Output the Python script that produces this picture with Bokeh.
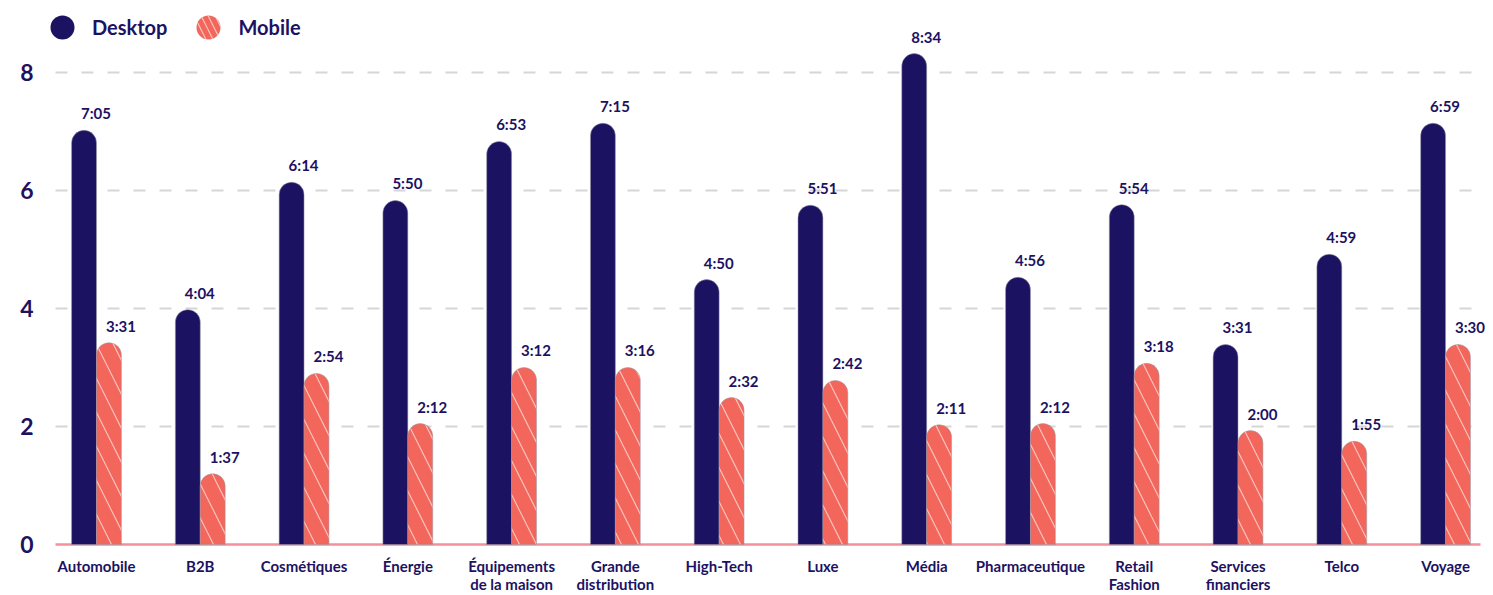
from bokeh.plotting import figure
from bokeh.models import (ColumnDataSource, FixedTicker, Grid, Legend, LegendItem, LabelSet)
from bokeh.core.properties import value
from bokeh.embed import file_html
from bokeh.resources import INLINE

categories = ["Automobile", "B2B", "Cosmétiques", "Énergie", "Équipements\nde la maison",
              "Grande\ndistribution", "High-Tech", "Luxe", "Média", "Pharmaceutique",
              "Retail\nFashion", "Services\nfinanciers", "Telco", "Voyage"]
desktop = [7.02, 3.98, 6.14, 5.83, 6.83, 7.14, 4.49, 5.75, 8.32, 4.53, 5.76, 3.39, 4.92, 7.14]
mobile = [3.42, 1.20, 2.90, 2.05, 3.00, 3.00, 2.49, 2.78, 2.03, 2.05, 3.07, 1.93, 1.75, 3.39]
desktop_labels = ["7:05", "4:04", "6:14", "5:50", "6:53", "7:15", "4:50", "5:51", "8:34",
                  "4:56", "5:54", "3:31", "4:59", "6:59"]
mobile_labels = ["3:31", "1:37", "2:54", "2:12", "3:12", "3:16", "2:32", "2:42", "2:11",
                 "2:12", "3:18", "2:00", "1:55", "3:30"]
y_ticks = [0, 2, 4, 6, 8]

NAVY = "#1c1262"
CORAL = "#f2665c"
FONT = "Lato"

idx = list(range(len(categories)))
bw = 0.24
src = ColumnDataSource(dict(
    x=idx,
    xd=[i - bw / 2 for i in idx],
    xm=[i + bw / 2 for i in idx],
    desktop=desktop, mobile=mobile,
    dl=desktop_labels, ml=mobile_labels,
))

p = figure(width=1493, height=595, output_backend="svg", toolbar_location=None,
           x_range=(-0.501, 13.462), y_range=(-0.034, 9.05),
           min_border_left=44, min_border_right=0, min_border_top=10, min_border_bottom=47)
p.outline_line_color = None
p.background_fill_color = "white"

GRID_SPAN = (-0.395, 13.34)

# grid
p.xgrid.grid_line_color = None
p.ygrid.ticker = FixedTicker(ticks=[t for t in y_ticks if t > 0])
p.ygrid.grid_line_color = "#d6d6d6"
p.ygrid.grid_line_width = 2
p.ygrid.grid_line_dash = "12 14"

base = Grid(dimension=1, ticker=FixedTicker(ticks=[t for t in y_ticks if t == 0]),
            grid_line_color="#f3909b", grid_line_width=2.5)
for g in (p.ygrid[0], base):
    try:
        g.cross_bounds = GRID_SPAN
    except Exception:
        pass
p.add_layout(base)

rd = p.vbar(x="xd", top="desktop", bottom=0, width=bw, source=src,
            fill_color=NAVY, line_color="#9a9aa8", line_alpha=0.5, line_width=1,
            border_radius=(13, 13, 0, 0))
rm = p.vbar(x="xm", top="mobile", bottom=0, width=bw, source=src,
            fill_color=CORAL, line_color="#9a9aa8", line_alpha=0.5, line_width=1,
            hatch_pattern="\\", hatch_color="white", hatch_alpha=0.6,
            hatch_scale=34, hatch_weight=1.2,
            border_radius=(13, 13, 0, 0))

for xcol, ycol, lcol in (("xd", "desktop", "dl"), ("xm", "mobile", "ml")):
    p.add_layout(LabelSet(x=xcol, y=ycol, text=lcol, source=src, x_offset=12, y_offset=8,
                          text_align="center", text_baseline="bottom",
                          text_font=value(FONT), text_font_style="bold",
                          text_font_size="15px", text_color=NAVY))

# axes
p.xaxis.ticker = FixedTicker(ticks=idx)
p.xaxis.major_label_overrides = {i: c for i, c in enumerate(categories)}
p.xaxis.axis_line_color = None
p.xaxis.major_tick_line_color = None
p.xaxis.minor_tick_line_color = None
p.xaxis.major_tick_out = 0
p.xaxis.major_tick_in = 0
p.xaxis.major_label_standoff = 10
p.xaxis.major_label_text_font = FONT
p.xaxis.major_label_text_font_size = "15px"
p.xaxis.major_label_text_font_style = "bold"
p.xaxis.major_label_text_color = NAVY
p.xaxis.major_label_text_line_height = 1.0

p.yaxis.ticker = FixedTicker(ticks=y_ticks)
p.yaxis.axis_line_color = None
p.yaxis.major_tick_line_color = None
p.yaxis.minor_tick_line_color = None
p.yaxis.major_tick_out = 0
p.yaxis.major_tick_in = 0
p.yaxis.major_label_standoff = 11
p.yaxis.major_label_text_font = FONT
p.yaxis.major_label_text_font_size = "23px"
p.yaxis.major_label_text_font_style = "bold"
p.yaxis.major_label_text_color = NAVY

# legend with circle glyphs (renderers hold no visible point)
nan = float("nan")
ld = p.scatter(x=[nan], y=[nan], marker="circle", size=10, fill_color=NAVY, line_color=None)
lm = p.scatter(x=[nan], y=[nan], marker="circle", size=10, fill_color=CORAL, line_color=None,
               hatch_pattern="\\", hatch_color="white", hatch_alpha=0.6,
               hatch_scale=14, hatch_weight=1.2)
legend = Legend(items=[LegendItem(label="Desktop", renderers=[ld]),
                       LegendItem(label="Mobile", renderers=[lm])],
                location=(-12, 484), orientation="horizontal",
                glyph_width=60, glyph_height=70, label_standoff=0, spacing=11,
                padding=0, margin=0, border_line_color=None, background_fill_alpha=0,
                label_text_font=FONT, label_text_font_size="20px",
                label_text_font_style="bold", label_text_color=NAVY)
p.add_layout(legend, "center")

open("out.html", "w").write(file_html(p, INLINE))
